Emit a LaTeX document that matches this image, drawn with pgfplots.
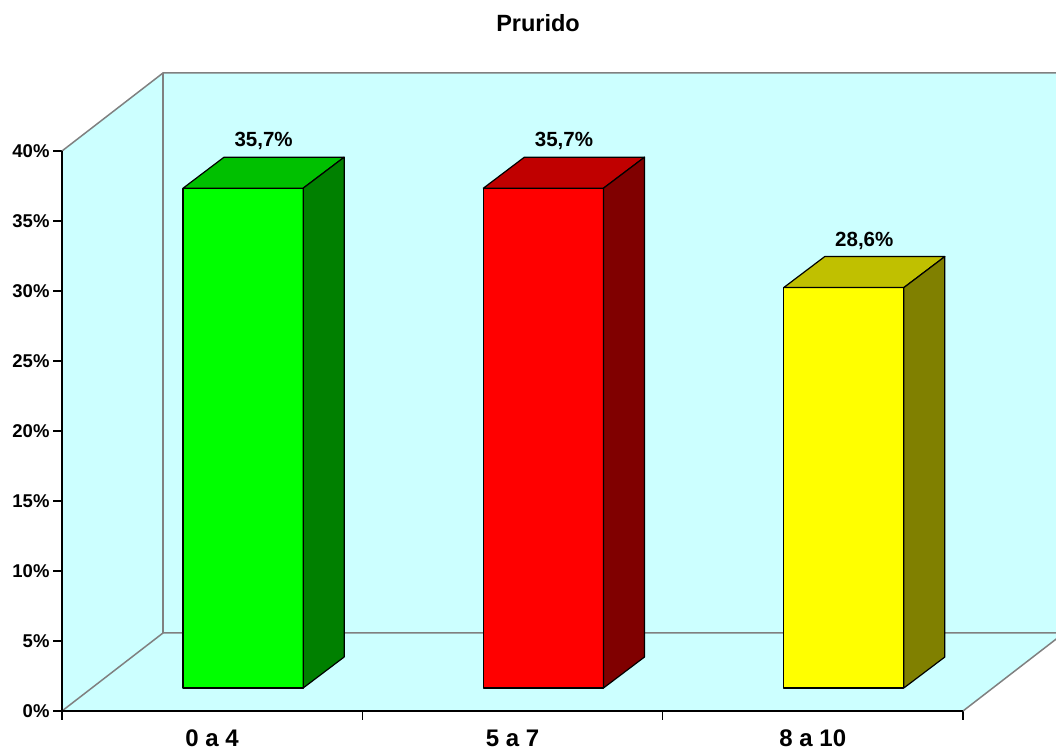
\documentclass[border=0pt]{standalone}
\usepackage{pgfplots}
\pgfplotsset{compat=1.18}
\usepackage{fontspec}
\setmainfont{Liberation Sans}

\definecolor{wallcyan}{HTML}{CCFFFF}
\definecolor{edgegray}{HTML}{808080}
\definecolor{greenfront}{HTML}{00FF00}
\definecolor{greentop}{HTML}{00C000}
\definecolor{greenside}{HTML}{008000}
\definecolor{redfront}{HTML}{FF0000}
\definecolor{redtop}{HTML}{C00000}
\definecolor{redside}{HTML}{800000}
\definecolor{yellowfront}{HTML}{FFFF00}
\definecolor{yellowtop}{HTML}{C0C000}
\definecolor{yellowside}{HTML}{808000}

\newcommand\tickfont{\fontsize{18.5}{22}\selectfont\bfseries}
\newcommand\catfont{\fontsize{24}{28}\selectfont\bfseries}
\newcommand\valfont{\fontsize{20.5}{24}\selectfont\bfseries}
\newcommand\titlefont{\fontsize{23.5}{28}\selectfont\bfseries}

% floor depth (x, y in axis units) and bar geometry
\def\depthx{0.3363}
\def\depthy{5.5714}
\def\barbase{1.643}
\def\barwidth{0.40}
\def\bardx{0.1365}
\def\bardy{2.214}

% 3D bar: category index, value, front, top and side colours
\newcommand{\cube}[5]{%
  \pgfmathsetmacro\xa{#1+0.403}%
  \pgfmathsetmacro\xb{\xa+\barwidth}%
  \pgfmathsetmacro\xc{\xa+\bardx}%
  \pgfmathsetmacro\xd{\xb+\bardx}%
  \pgfmathsetmacro\xm{(\xa+\xd)/2}%
  \pgfmathsetmacro\ya{\barbase}%
  \pgfmathsetmacro\yb{\barbase+#2}%
  \pgfmathsetmacro\yc{\barbase+\bardy}%
  \pgfmathsetmacro\yd{\yb+\bardy}%
  \edef\temp{%
    \noexpand\addplot[fill=#3,draw=black,line width=1.2pt,line join=round]
      coordinates {(\xa,\ya)(\xb,\ya)(\xb,\yb)(\xa,\yb)} -- cycle;
    \noexpand\addplot[fill=#4,draw=black,line width=1.2pt,line join=round]
      coordinates {(\xa,\yb)(\xb,\yb)(\xd,\yd)(\xc,\yd)} -- cycle;
    \noexpand\addplot[fill=#5,draw=black,line width=1.2pt,line join=round]
      coordinates {(\xb,\ya)(\xd,\yc)(\xd,\yd)(\xb,\yb)} -- cycle;
    \noexpand\node[anchor=base,yshift=10.5pt,font=\noexpand\valfont]
      at (axis cs:\xm,\yd) {\noexpand\pgfmathprintnumber[fixed,fixed zerofill,precision=1,use comma,assume math mode=true]{#2}\noexpand\%};
  }\temp}

\begin{document}
\begin{tikzpicture}
\useasboundingbox (0,0) rectangle (1056pt,751pt);
\begin{axis}[
  at={(62pt,40pt)}, anchor=south west,
  scale only axis, width=994pt, height=638pt,
  xmin=0, xmax=3.3097, ymin=0, ymax=45.5714,
  clip=false,
  axis lines*=left, axis line style={draw=none},
  tick align=outside, major tick length=9pt,
  tick style={black, line width=1.2pt},
  ytick={0,5,...,40},
  yticklabels={0\%,5\%,10\%,15\%,20\%,25\%,30\%,35\%,40\%},
  yticklabel style={font=\tickfont},
  xtick={0,1,2,3}, xticklabels={},
  extra x ticks={0.5,1.5,2.5},
  extra x tick labels={0 a 4,5 a 7,8 a 10},
  extra x tick style={major tick length=0pt, xticklabel style={font=\catfont, yshift=-15.5pt}},
  title={Prurido},
  title style={at={(0.4789,1)}, anchor=base, yshift=35.3pt, font=\titlefont},
  no markers,
]
% walls and floor
\addplot[fill=wallcyan, draw=none] coordinates {(0.3363,5.5714)(3.4,5.5714)(3.4,45.5714)(0.3363,45.5714)} -- cycle;
\addplot[fill=wallcyan, draw=none] coordinates {(0,0)(0.3363,5.5714)(0.3363,45.5714)(0,40)} -- cycle;
\addplot[fill=wallcyan, draw=none] coordinates {(0,0)(3,0)(3.3363,5.5714)(0.3363,5.5714)} -- cycle;
% wall edges
\addplot[edgegray, line width=1.5pt] coordinates {(0,40)(0.3363,45.5714)(3.4,45.5714)};
\addplot[edgegray, line width=1.5pt] coordinates {(0,0)(0.3363,5.5714)(3.4,5.5714)};
\addplot[edgegray, line width=1.5pt] coordinates {(0.3363,5.5714)(0.3363,45.5714)};
\addplot[edgegray, line width=1.5pt] coordinates {(3,0)(3.3363,5.5714)};
% axis lines
\addplot[black, line width=1.3pt] coordinates {(0,40)(0,0)(3,0)};
% bars
\cube{0}{35.7}{greenfront}{greentop}{greenside}
\cube{1}{35.7}{redfront}{redtop}{redside}
\cube{2}{28.6}{yellowfront}{yellowtop}{yellowside}
\end{axis}
\end{tikzpicture}
\end{document}
